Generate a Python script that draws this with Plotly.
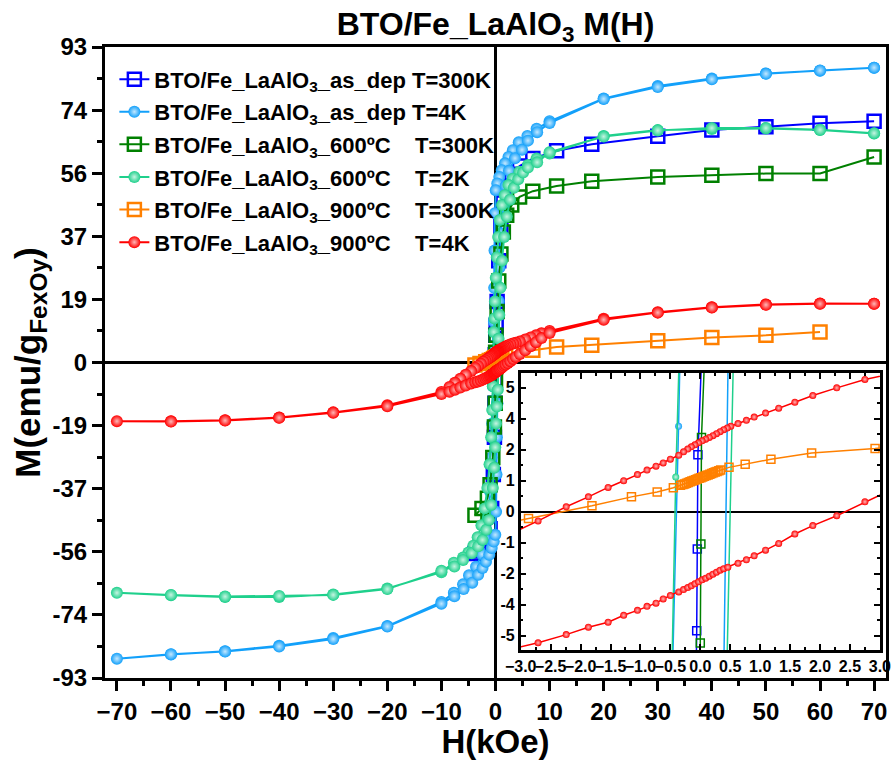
import plotly.graph_objects as go

# ---------------- data (H in kOe, M in emu/g) ----------------
# BTO/Fe_LaAlO3 as-deposited, 300 K (single sweep from +70 kOe)
H_asdep_300K = [70, 60, 50, 40, 30, 17.8, 11.3, 6.9, 4.45, 3.0, 2.0, 1.4, 1.0, 0.6, 0.3, 0.12,
                0.05, -0.04, -0.05, -0.06, -0.1, -0.2, -0.4, -0.7, -1.0, -1.5, -2.2, -3.0, -3.8]
M_asdep_300K = [71.1, 70.5, 69.5, 68.5, 66.7, 64.3, 62.4, 60.1, 57.9, 55.5, 52.0, 47.0, 40.0, 30.0, 18.0, 11.0,
                8.0, 2.3, -1.5, -4.8, -12.0, -22.0, -33.0, -43.0, -49.0, -52.5, -54.5, -55.6, -56.3]

# BTO/Fe_LaAlO3 as-deposited, 4 K (full loop: descending then ascending)
H_asdep_4K = [70, 60, 50, 40, 30, 20, 10, 7.6, 5.9, 4.3, 3.2, 2.4, 1.76, 1.15, 0.7, 0.33, 0.04,
              -0.1, -0.18, -0.24, -0.29, -0.363, -0.47, -0.6, -0.75, -1.0, -1.4, -1.9, -2.5, -3.6,
              -4.9, -6.0, -7.7, -10, -20, -30, -40, -50, -60, -70,
              -60, -50, -40, -30, -20, -10, -7.6, -5.9, -4.3, -3.2, -2.4, -1.76, -1.15, -0.7, -0.33,
              -0.04, 0.1, 0.18, 0.24, 0.29, 0.36, 0.47, 0.6, 0.75, 1.0, 1.4, 1.9, 2.5, 3.6,
              4.9, 6.0, 7.7, 10, 20, 30, 40, 50, 60, 70]
M_asdep_4K = [86.9, 86.0, 85.2, 83.7, 81.5, 77.8, 71.1, 68.9, 66.8, 64.9, 62.6, 60.6, 58.7, 56.7, 54.7, 52.8, 50.8,
              44.0, 33.0, 22.0, 12.0, 3.45, -7.0, -18.0, -28.0, -38.0, -46.0, -52.0, -56.5, -60.2,
              -62.7, -65.4, -67.9, -70.6, -77.7, -81.2, -83.5, -85.1, -86.1, -87.3,
              -86.0, -85.2, -83.7, -81.5, -77.8, -71.1, -68.9, -66.8, -64.9, -62.6, -60.6, -58.7, -56.7, -54.7, -52.8,
              -50.8, -44.0, -33.0, -22.0, -12.0, -12.0, 7.0, 18.0, 28.0, 38.0, 46.0, 52.0, 56.5, 60.2,
              62.7, 65.4, 67.9, 70.6, 77.7, 81.2, 83.5, 85.1, 86.1, 86.9]

# BTO/Fe_LaAlO3 annealed 600 C, 300 K (single sweep from +70 kOe)
H_600C_300K = [70, 60, 50, 40, 30, 17.8, 11.3, 6.9, 4.45, 3.0, 2.07, 1.45, 1.0, 0.6, 0.3, 0.1,
               0.02, 0.01, 0.0, -0.05, -0.2, -0.5, -1.0, -1.5, -2.5, -3.8]
M_600C_300K = [60.6, 55.7, 55.7, 55.2, 54.7, 53.4, 52.0, 50.5, 48.8, 46.4, 43.4, 38.5, 32.0, 24.0, 15.0, 8.0,
               3.0, -1.3, -5.3, -12.0, -19.0, -28.0, -36.0, -40.0, -43.0, -45.0]

# BTO/Fe_LaAlO3 annealed 600 C, 2 K (full loop)
H_600C_2K = [70, 60, 50, 40, 30, 20, 10, 7.6, 6.0, 4.4, 3.2, 2.4, 1.7, 1.2, 0.8, 0.5, 0.25, 0.05,
             -0.1, -0.2, -0.32, -0.41, -0.48, -0.6, -0.8, -1.1, -1.5, -2.0, -2.6, -3.3, -4.1, -5.0,
             -6.0, -7.7, -10, -20, -30, -40, -50, -60, -70,
             -60, -50, -40, -30, -20, -10, -7.6, -6.0, -4.4, -3.2, -2.4, -1.7, -1.2, -0.8, -0.5,
             -0.25, -0.05, 0.1, 0.25, 0.43, 0.56, 0.7, 0.9, 1.2, 1.6, 2.1, 2.7, 3.4, 4.2, 5.1,
             6.0, 7.7, 10, 20, 30, 40, 50, 60, 70]
M_600C_2K = [67.5, 68.5, 69.0, 68.8, 68.5, 66.8, 61.6, 60.1, 58.2, 56.2, 54.2, 52.3, 49.3, 46.4, 42.0, 37.0, 31.0, 25.0,
             18.0, 13.0, 9.0, 1.4, -7.0, -14.0, -22.0, -30.0, -37.0, -43.0, -48.0, -51.5, -54.0, -56.0,
             -57.5, -59.0, -61.8, -66.6, -68.4, -69.1, -69.1, -68.6, -67.9,
             -68.5, -69.0, -68.8, -68.5, -66.8, -61.4, -60.1, -58.2, -56.2, -54.2, -52.3, -49.3, -46.4, -42.0, -37.0,
             -31.0, -25.0, -18.0, -13.0, -8.0, 7.0, 14.0, 22.0, 30.0, 37.0, 43.0, 48.0, 51.5, 54.0, 56.0,
             57.5, 59.0, 62.0, 66.6, 68.4, 69.1, 69.1, 68.6, 67.6]

# BTO/Fe_LaAlO3 annealed 900 C, 300 K (single sweep from +60 kOe)
H_900C_300K = [60, 50, 40, 30, 17.8, 11.3, 6.9, 2.92, 1.86, 1.18, 0.75, 0.48,
               0.34, 0.31, 0.28, 0.25, 0.22, 0.19, 0.16, 0.13, 0.10, 0.07, 0.04, 0.01,
               -0.02, -0.05, -0.08, -0.11, -0.14, -0.17, -0.20, -0.23, -0.26, -0.29, -0.33,
               -0.45, -0.72, -1.15, -1.81, -2.87, -3.8]
M_900C_300K = [9.0, 8.0, 7.4, 6.4, 5.1, 4.6, 3.6, 2.55, 2.37, 2.12, 1.92, 1.79,
               1.68, 1.65, 1.62, 1.60, 1.57, 1.54, 1.51, 1.48, 1.46, 1.43, 1.40, 1.37,
               1.35, 1.32, 1.29, 1.26, 1.24, 1.21, 1.18, 1.15, 1.12, 1.10, 1.07,
               0.97, 0.80, 0.60, 0.24, -0.27, -0.75]

# BTO/Fe_LaAlO3 annealed 900 C, 4 K (full loop)
H_900C_4K = [70, 60, 50, 40, 30, 20, 10, 8.5, 7.5, 6.5, 5.5, 4.5, 3.75, 3.25, 2.75, 2.28, 1.88, 1.58,
             1.31, 1.09, 0.90, 0.77, 0.63, 0.51, 0.45, 0.39, 0.33, 0.27, 0.21, 0.15, 0.09, 0.03,
             -0.03, -0.09, -0.15, -0.21, -0.28, -0.36, -0.50, -0.62, -0.74, -0.89, -1.05, -1.28,
             -1.54, -1.87, -2.24, -2.71, -3.25, -3.75, -4.5, -5.5, -6.5, -7.5, -8.5, -10,
             -20, -30, -40, -50, -60, -70,
             -60, -50, -40, -30, -20, -10, -8.5, -7.5, -6.5, -5.5, -4.5, -3.75, -3.25, -2.71,
             -2.24, -1.87, -1.54, -1.28, -1.05, -0.89, -0.74, -0.62, -0.50, -0.36, -0.28, -0.21,
             -0.15, -0.09, -0.03, 0.03, 0.09, 0.15, 0.21, 0.27, 0.33, 0.39, 0.46, 0.63, 0.77,
             0.90, 1.09, 1.31, 1.58, 1.88, 2.28, 2.75, 3.25, 3.75, 4.5, 5.5, 6.5, 7.5, 8.5, 10,
             20, 30, 40, 50, 60, 70]
M_900C_4K = [17.3, 17.4, 17.1, 16.3, 14.8, 12.9, 9.3, 8.6, 8.0, 7.4, 6.8, 6.2, 5.8, 5.6, 5.34, 5.0, 4.69, 4.42,
             4.18, 3.98, 3.82, 3.69, 3.56, 3.45, 3.38, 3.31, 3.23, 3.15, 3.07, 3.00, 2.93, 2.86,
             2.78, 2.70, 2.62, 2.53, 2.42, 2.28, 2.12, 1.97, 1.84, 1.68, 1.50, 1.25,
             0.98, 0.60, 0.20, -0.37, -1.0, -1.6, -2.5, -3.6, -4.8, -6.0, -7.2, -8.7,
             -12.6, -14.7, -16.2, -17.0, -17.3, -17.3,
             -17.4, -17.1, -16.3, -14.8, -12.9, -9.3, -8.6, -8.0, -7.4, -6.8, -6.2, -5.8, -5.6, -5.29,
             -4.96, -4.66, -4.46, -4.18, -3.98, -3.82, -3.69, -3.52, -3.38, -3.24, -3.14, -3.06,
             -2.99, -2.91, -2.83, -2.75, -2.68, -2.60, -2.52, -2.44, -2.36, -2.30, -2.24, -2.08, -1.94,
             -1.78, -1.55, -1.28, -0.90, -0.56, -0.16, 0.40, 1.0, 1.6, 2.5, 3.6, 4.8, 6.0, 7.2, 8.7,
             12.6, 14.7, 16.2, 17.0, 17.3, 17.3]

# main y axis ticks (range split in ten equal steps, labels rounded)
M_TICKS = [-93, -74.4, -55.8, -37.2, -18.6, 0, 18.6, 37.2, 55.8, 74.4, 93]
M_TICK_LABELS = ["-93", "-74", "-56", "-37", "-19", "0", "19", "37", "56", "74", "93"]
M_MINOR = [-83.7, -65.1, -46.5, -27.9, -9.3, 9.3, 27.9, 46.5, 65.1, 83.7]

# inset y axis ticks
INSET_TICKS = [-5, -3.75, -2.5, -1.25, 0, 1.25, 2.5, 3.75, 5]
INSET_TICK_LABELS = ["-5", "-4", "-2", "-1", "0", "1", "2", "4", "5"]
INSET_MINOR = [-4.375, -3.125, -1.875, -0.625, 0.625, 1.875, 3.125, 4.375]

FONT = "Liberation Sans"
SUB3 = "BTO/Fe_LaAlO<sub>3</sub>"
GAP = "\u00a0" * 4

series = [
    dict(name=SUB3 + "_as_dep T=300K", H=H_asdep_300K, M=M_asdep_300K,
         color="#0000ff", tint=None),
    dict(name=SUB3 + "_as_dep T=4K", H=H_asdep_4K, M=M_asdep_4K,
         color="#12a0fa", tint="#c4e8ff"),
    dict(name=SUB3 + "_600ºC" + GAP + "T=300K", H=H_600C_300K, M=M_600C_300K,
         color="#008000", tint=None),
    dict(name=SUB3 + "_600ºC" + GAP + "T=2K", H=H_600C_2K, M=M_600C_2K,
         color="#1fd08c", tint="#c6f5e2"),
    dict(name=SUB3 + "_900ºC" + GAP + "T=300K", H=H_900C_300K, M=M_900C_300K,
         color="#ff8000", tint=None),
    dict(name=SUB3 + "_900ºC" + GAP + "T=4K", H=H_900C_4K, M=M_900C_4K,
         color="#ff0000", tint="#ffb8b8"),
]


def marker_style(s, size, lw):
    if s["tint"] is None:
        return dict(symbol="square-open", size=size, color=s["color"],
                    line=dict(width=lw, color=s["color"]))
    return dict(symbol="circle", size=size - 1, color=s["color"],
                gradient=dict(type="radial", color=s["tint"]),
                line=dict(width=0))


fig = go.Figure()

# main panel
for i, s in enumerate(series):
    fig.add_trace(go.Scatter(
        x=s["H"], y=s["M"], mode="lines+markers", name=s["name"],
        legendgroup=f"g{i}", xaxis="x", yaxis="y",
        line=dict(color=s["color"], width=2),
        marker=marker_style(s, 13, 2.5),
    ))

# inset panel (zoom on the low-field region)
for i, s in enumerate(series):
    fig.add_trace(go.Scatter(
        x=s["H"], y=s["M"], mode="lines+markers", name=s["name"],
        legendgroup=f"g{i}", showlegend=False, xaxis="x2", yaxis="y2",
        line=dict(color=s["color"], width=1.5),
        marker=marker_style(s, 8, 1.5),
    ))

axis_font = dict(family=FONT, size=24, color="black", weight="bold")
inset_font = dict(family=FONT, size=16, color="black", weight="bold")
title_font = dict(family=FONT, size=33, color="black", weight="bold")

fig.update_layout(
    width=891, height=760,
    margin=dict(l=105, r=5, t=47, b=82, autoexpand=False),
    paper_bgcolor="white", plot_bgcolor="white",
    font=dict(family=FONT, color="black"),
    title=dict(text="BTO/Fe_LaAlO<sub>3</sub> M(H)", x=0.5, xref="paper", xanchor="center",
               y=1 - 24 / 760, yref="container", yanchor="middle",
               font=dict(family=FONT, size=32, color="black", weight="bold")),
    legend=dict(x=0.012, y=0.982, xanchor="left", yanchor="top",
                bgcolor="rgba(0,0,0,0)", borderwidth=0,
                traceorder="grouped", tracegroupgap=1,
                font=dict(family=FONT, size=22, color="black", weight="bold")),
    xaxis=dict(
        range=[-72.2, 72.2], tick0=0, dtick=10, ticks="outside", ticklen=10, tickwidth=3,
        tickcolor="black", tickfont=axis_font, showline=True, linewidth=3, linecolor="black",
        mirror=True, showgrid=False, zeroline=True, zerolinewidth=3, zerolinecolor="black",
        automargin=False,
        minor=dict(dtick=5, ticks="outside", ticklen=5, tickwidth=3, tickcolor="black", showgrid=False),
        title=dict(text="H(kOe)", standoff=2, font=title_font),
    ),
    xaxis3=dict(
        range=[-72.2, 72.2], overlaying="x", anchor="y", side="top", tick0=0, dtick=10,
        ticks="inside", ticklen=10, tickwidth=3, tickcolor="black", showticklabels=False,
        showline=False, showgrid=False, zeroline=False, automargin=False,
        minor=dict(dtick=5, ticks="inside", ticklen=5, tickwidth=3, tickcolor="black", showgrid=False),
    ),
    yaxis=dict(
        range=[-93, 93], tickmode="array", tickvals=M_TICKS, ticktext=M_TICK_LABELS,
        ticks="outside", ticklen=10, tickwidth=3, tickcolor="black", tickfont=axis_font,
        showline=True, linewidth=3, linecolor="black", mirror=True, showgrid=False,
        zeroline=True, zerolinewidth=3, zerolinecolor="black", automargin=False,
        minor=dict(tickmode="array", tickvals=M_MINOR, ticks="outside", ticklen=5, tickwidth=3,
                   tickcolor="black", showgrid=False),
        title=dict(text="M(emu/g<sub>FexOy</sub>)", standoff=2,
                   font=dict(family=FONT, size=35, color="black", weight="bold")),
    ),
    xaxis2=dict(
        domain=[0.5323, 0.9923], anchor="y2", range=[-3, 3.002], tick0=0, dtick=0.5,
        tickformat=".1f", tickangle=0, ticks="inside", ticklen=6, tickwidth=2, tickcolor="black",
        tickfont=inset_font, showline=True, linewidth=2.5, linecolor="black", mirror="ticks",
        showgrid=False, zeroline=False, automargin=False, ticklabeloverflow="allow",
        minor=dict(dtick=0.25, ticks="inside", ticklen=3, tickwidth=2, tickcolor="black", showgrid=False),
    ),
    yaxis2=dict(
        domain=[0.0444, 0.4834], anchor="x2", range=[-5.58, 5.6], tickmode="array",
        tickvals=INSET_TICKS, ticktext=INSET_TICK_LABELS, ticks="inside", ticklen=6, tickwidth=2,
        tickcolor="black", tickfont=inset_font, showline=True, linewidth=2.5, linecolor="black",
        mirror="ticks", showgrid=False, zeroline=True, zerolinewidth=2, zerolinecolor="black",
        automargin=False,
        minor=dict(tickmode="array", tickvals=INSET_MINOR, ticks="inside", ticklen=3, tickwidth=2,
                   tickcolor="black", showgrid=False),
    ),
)

fig.write_html("out.html")
